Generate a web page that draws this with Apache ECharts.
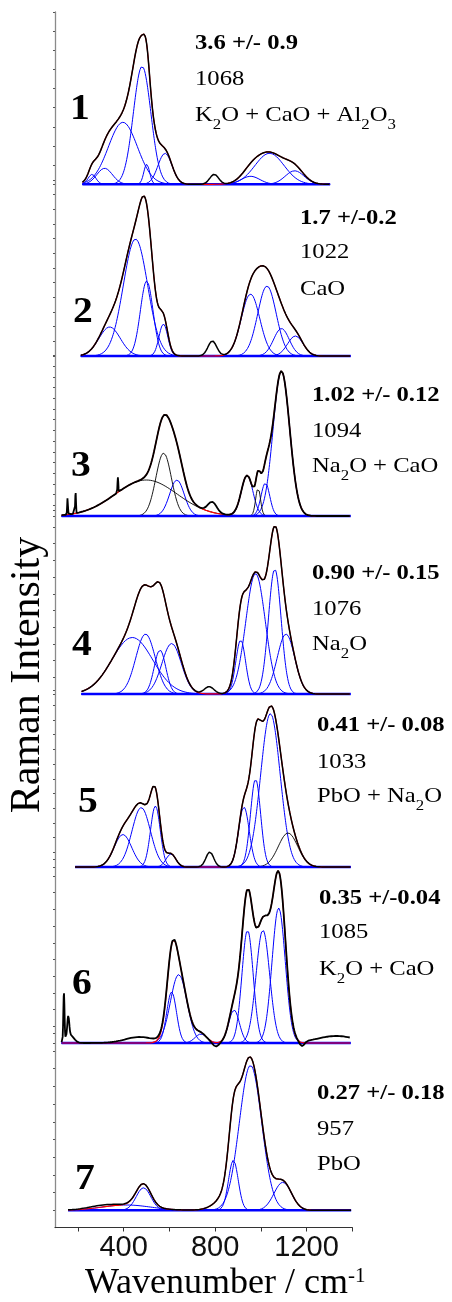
<!DOCTYPE html>
<html><head><meta charset="utf-8">
<script src="https://cdn.jsdelivr.net/npm/echarts@6/dist/echarts.min.js"></script>
<style>html,body{margin:0;padding:0;background:#fff}#c{width:452px;height:1302px}</style>
</head><body><div id="c"></div>
<script>
// ---------- DATA (peaks: [centre cm-1, height a.u., FWHM cm-1]) ----------
const xMin = 100, xMax = 1400;
const xTickValues = [200, 400, 600, 800, 1000, 1200, 1400];
const xLabelValues = [400, 800, 1200];

const panelNumbers = ['1', '2', '3', '4', '5', '6', '7'];
const ratioTexts = ['3.6 +/- 0.9', '1.7 +/-0.2', '1.02 +/- 0.12', '0.90 +/- 0.15', '0.41 +/- 0.08', '0.35 +/-0.04', '0.27 +/- 0.18'];
const bandTexts = ['1068', '1022', '1094', '1076', '1033', '1085', '957'];
const oxideTexts = [
  '{n|K}{s|2}{n|O + CaO + Al}{s|2}{n|O}{s|3}',
  '{n|CaO}',
  '{n|Na}{s|2}{n|O + CaO}',
  '{n|Na}{s|2}{n|O}',
  '{n|PbO + Na}{s|2}{n|O}',
  '{n|K}{s|2}{n|O + CaO}',
  '{n|PbO}'
];

// measured range of each spectrum
const p1Range = [220, 1303];
const p2Range = [213, 1393];
const p3Range = [129, 1393];
const p4Range = [216, 1393];
const p5Range = [188, 1393];
const p6Range = [129, 1393];
const p7Range = [157, 1395];

// fitted components (blue)
const p1Blue = [[262, 10, 40], [317, 16, 80], [397, 62, 149], [481, 118, 90], [501, 20, 30], [581, 31, 72], [955, 8, 95], [1038, 31, 150], [1148, 13.5, 97]];
const p2Blue = [[339, 29, 110], [452, 117, 125], [501, 75, 65], [574, 32, 45], [955, 62, 95], [1027, 70, 95], [1090, 27.5, 80], [1151, 20, 80]];
const p3Blue = [[633, 36, 75], [940, 40.5, 60], [1020, 33, 45], [1090, 145, 85]];
const p4Blue = [[438, 56.5, 210], [496, 60, 100], [559, 44, 60], [610, 50.5, 100], [912, 54, 50], [977, 120.5, 100], [1061, 125, 65], [1110, 60, 90]];
const p5Blue = [[397, 32.5, 90], [477, 59.5, 95], [539, 61, 50], [607, 13, 50], [926, 60, 55], [977, 88, 52], [1042, 153.5, 100]];
const p6Blue = [[610, 51, 50], [641, 68.5, 85], [738, 9, 60], [883, 33, 55], [942, 113, 58], [1009, 113, 70], [1078, 135, 68]];
const p7Blue = [[412, 5.3, 250], [487, 22.5, 75], [880, 50, 50], [955, 145, 115], [1096, 28, 90]];

// fitted components drawn in black
const p1BlackFit = [];
const p2BlackFit = [];
const p3BlackFit = [[499, 36, 320], [575, 63, 80], [988, 28, 25]];
const p4BlackFit = [];
const p5BlackFit = [[1119, 34, 100]];
const p6BlackFit = [];
const p7BlackFit = [];

// further fit contributions not drawn separately
const p1Hidden = [];
const p2Hidden = [];
const p3Hidden = [];
const p4Hidden = [];
const p5Hidden = [];
const p6Hidden = [[935, 32, 70], [1085, 30, 70]];
const p7Hidden = [[880, 18, 140]];

// other bands present in the measured spectrum only
const p1Other = [[796, 10, 45]];
const p2Other = [[788, 15, 45]];
const p3Other = [[788, 10.5, 45], [155, 17, 4], [190, 21, 4], [375, 15, 4]];
const p4Other = [[774, 7.3, 50]];
const p5Other = [[777, 15, 40]];
const p6Other = [[139, 48, 6], [158, 20, 10], [165, 8, 40], [470, 6, 150], [803, -4, 30], [1180, -5, 25], [1330, 7, 200]];
const p7Other = [[300, 2, 150]];

// ---------- LAYOUT ----------
const panels = [
  {range: p1Range, blue: p1Blue, black: p1BlackFit, hidden: p1Hidden, other: p1Other, base: 184.3, step: 19.15, n: 9},
  {range: p2Range, blue: p2Blue, black: p2BlackFit, hidden: p2Hidden, other: p2Other, base: 356, step: 14.67, n: 12},
  {range: p3Range, blue: p3Blue, black: p3BlackFit, hidden: p3Hidden, other: p3Other, base: 516, step: 10.7, n: 15},
  {range: p4Range, blue: p4Blue, black: p4BlackFit, hidden: p4Hidden, other: p4Other, base: 694, step: 16.7, n: 11},
  {range: p5Range, blue: p5Blue, black: p5BlackFit, hidden: p5Hidden, other: p5Other, base: 867, step: 14.7, n: 12},
  {range: p6Range, blue: p6Blue, black: p6BlackFit, hidden: p6Hidden, other: p6Other, base: 1043, step: 16.7, n: 11},
  {range: p7Range, blue: p7Blue, black: p7BlackFit, hidden: p7Hidden, other: p7Other, base: 1210.3, step: 17.7, n: 10}
];
const numPos = [[80, 110], [83, 313], [81, 467], [82, 646], [88, 803], [82, 985], [85, 1180]];
const annPos = [[195, 43, 79, 115], [300, 218, 252, 289], [312, 395, 431, 466], [312, 573, 609, 644], [317, 725, 762, 796], [319, 898, 932, 969], [317, 1093, 1129, 1164]];

const GL = 55, GW = 297.3;
function gauss(x, p) { return p[1] * Math.exp(-4 * Math.LN2 * (x - p[0]) * (x - p[0]) / (p[2] * p[2])); }
function curve(range, peaks) {
  const out = [];
  for (let x = range[0]; x <= range[1]; x += 1.5) {
    let s = 0; for (const p of peaks) s += gauss(x, p);
    out.push([x, s]);
  }
  return out;
}

const grids = [{left: GL, top: 12, width: GW, height: 1215.5}];
const xAxes = [{gridIndex: 0, type: 'value', min: xMin, max: xMax,
  axisLine: {onZero: false, lineStyle: {color: '#333', width: 1.2}},
  axisTick: {customValues: xTickValues, length: 4, lineStyle: {color: '#333', width: 1}},
  axisLabel: {customValues: xLabelValues, formatter: v => String(v), fontFamily: 'Liberation Sans', fontSize: 29, color: '#111', margin: 6},
  splitLine: {show: false}}];
const yAxes = [{gridIndex: 0, type: 'value', min: 0, max: 1,
  axisLine: {show: true, onZero: false, lineStyle: {color: '#8a8a8a', width: 1.3}},
  axisTick: {show: false}, axisLabel: {show: false}, splitLine: {show: false}}];
const series = [];
const graphics = [];

panels.forEach((P, i) => {
  const gi = i + 1;
  const h = P.n * P.step;
  grids.push({left: GL, top: P.base - h, width: GW, height: h});
  xAxes.push({gridIndex: gi, type: 'value', min: xMin, max: xMax, show: false});
  yAxes.push({gridIndex: gi, type: 'value', min: 0, max: h, interval: P.step,
    axisLine: {show: false, onZero: false}, axisLabel: {show: false}, splitLine: {show: false},
    axisTick: {show: true, length: 2, lineStyle: {color: '#555', width: 1.2}}});
  const common = {type: 'line', xAxisIndex: gi, yAxisIndex: gi, showSymbol: false, symbol: 'none', clip: false, silent: true, animation: false};
  P.blue.forEach(p => series.push(Object.assign({}, common, {data: curve(P.range, [p]), lineStyle: {color: '#0000ff', width: 1}, z: 2})));
  P.black.forEach(p => series.push(Object.assign({}, common, {data: curve(P.range, [p]), lineStyle: {color: '#000', width: 0.9}, z: 2})));
  series.push(Object.assign({}, common, {data: [[P.range[0], 0], [P.range[1], 0]], lineStyle: {color: '#0000ff', width: 2.6}, z: 3}));
  const fit = P.blue.concat(P.black, P.hidden);
  series.push(Object.assign({}, common, {data: curve(P.range, fit), lineStyle: {color: '#ff0000', width: 1.2}, z: 4}));
  series.push(Object.assign({}, common, {data: curve(P.range, fit.concat(P.other)), lineStyle: {color: '#000', width: (i === 2 || i === 5) ? 1.8 : 1.5}, z: 5}));

  graphics.push({type: 'text', x: numPos[i][0], y: numPos[i][1], style: {text: panelNumbers[i], font: 'bold 36px "Liberation Serif"', fill: '#000', textAlign: 'center', textVerticalAlign: 'middle'}, scaleX: 1.1});
  const a = annPos[i];
  graphics.push({type: 'text', x: a[0], y: a[1], scaleX: 1.12, style: {text: ratioTexts[i], font: 'bold 22px "Liberation Serif"', fill: '#000', textAlign: 'left', textVerticalAlign: 'middle'}});
  graphics.push({type: 'text', x: a[0], y: a[2], scaleX: 1.12, style: {text: bandTexts[i], font: '22px "Liberation Serif"', fill: '#000', textAlign: 'left', textVerticalAlign: 'middle'}});
  graphics.push({type: 'text', x: a[0], y: a[3] + 2, scaleX: 1.12, style: {text: oxideTexts[i], textAlign: 'left', textVerticalAlign: 'middle',
    rich: {n: {fontFamily: 'Liberation Serif', fontSize: 22, color: '#000', lineHeight: 26, verticalAlign: 'top'},
           s: {fontFamily: 'Liberation Serif', fontSize: 15, color: '#000', lineHeight: 15, padding: [14, 0, 0, 0], verticalAlign: 'top'}}}});
});

graphics.push({type: 'text', x: 28, y: 675, rotation: Math.PI / 2, style: {text: 'Raman Intensity', font: '42px "Liberation Serif"', fill: '#000', textAlign: 'center', textVerticalAlign: 'middle'}});
graphics.push({type: 'text', x: 85, y: 1286, style: {text: '{n|Wavenumber / cm}{p|-1}', textAlign: 'left', textVerticalAlign: 'middle',
  rich: {n: {fontFamily: 'Liberation Serif', fontSize: 36, color: '#000', lineHeight: 40, verticalAlign: 'top'},
         p: {fontFamily: 'Liberation Serif', fontSize: 21, color: '#000', lineHeight: 21, padding: [0, 0, 22, 0], verticalAlign: 'top'}}}});

const chart = echarts.init(document.getElementById('c'));
chart.setOption({animation: false, grid: grids, xAxis: xAxes, yAxis: yAxes, series: series, graphic: graphics});
</script></body></html>
